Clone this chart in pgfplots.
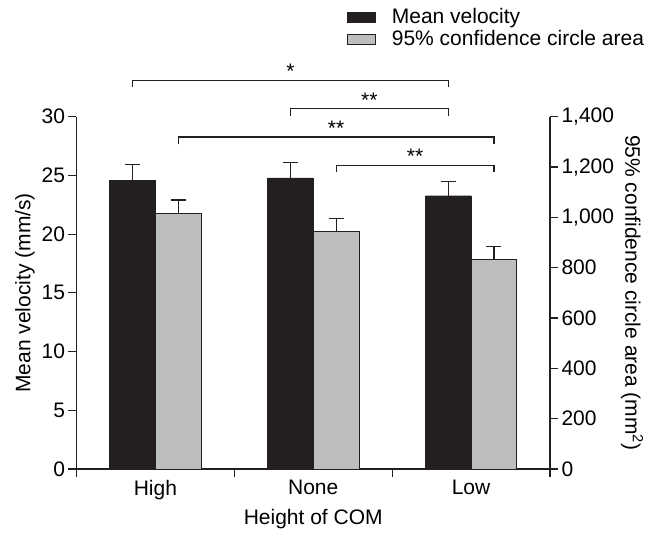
\documentclass[border=0pt]{standalone}
\usepackage{fontspec}
\setmainfont{Liberation Sans}
\usepackage{pgfplots}
\pgfplotsset{compat=1.18}
\definecolor{barblack}{HTML}{231F20}
\definecolor{bargray}{HTML}{BCBEC0}

\newcommand{\fs}{\fontsize{21}{25}\selectfont}
% significance bracket: x1, x2, y, label
\newcommand{\sigbracket}[4]{%
  \draw[line width=1.1pt, barblack] (axis cs:#1,#3-0.6) |- (axis cs:#2,#3) -- (axis cs:#2,#3-0.6);
  \node[anchor=base, font=\fs, inner sep=0pt] at (axis cs:{(#1+#2)/2},#3+0.15) {#4};
}

\pgfplotsset{
  boxlegend/.style={legend image code/.code={\draw[##1] (0pt,-5pt) rectangle (28pt,5pt);}},
  errs/.style={error bars/.cd, y dir=plus, y explicit,
    error bar style={line width=1.1pt, barblack},
    error mark options={rotate=90, mark size=7.5pt, line width=1.1pt, barblack}},
  common/.style={
    width=473.5pt, height=352.3pt, scale only axis,
    xmin=-0.5, xmax=2.5, ymin=0,
    tick align=outside, major tick length=8pt, minor tick length=8pt,
    axis line style={-, line width=1.1pt, draw=barblack},
    every tick/.style={line width=1.1pt, barblack},
    tick label style={font=\fs},
    label style={font=\fs},
    /pgf/number format/assume math mode=true,
    clip=false,
  },
}

\begin{document}
\begin{tikzpicture}
\path[use as bounding box] (-76.5pt,-67pt) rectangle (572.5pt,469pt);

\begin{axis}[common,
  axis x line*=bottom, axis y line*=left,
  ymax=30, ytick={0,5,...,30},
  xtick={0,1,2}, xticklabels={High,None,Low},
  minor xtick={-0.5,0.5,1.5,2.5},
  major x tick style={draw=none},
  xlabel={Height of COM},
  xlabel style={yshift=-2pt},
  ylabel={Mean velocity (mm/s)},
]
% mean velocity (mm/s), bars at the left of each group
\addplot[ybar, bar width=0.29, bar shift=0, fill=barblack, draw=barblack, errs]
  coordinates {(-0.145,24.6) +- (0,1.31) (0.855,24.8) +- (0,1.28) (1.855,23.27) +- (0,1.25)};

\sigbracket{-0.145}{1.855}{33.1}{*}
\sigbracket{0.855}{1.855}{30.66}{**}
\sigbracket{0.145}{2.145}{28.27}{**}
\sigbracket{1.145}{2.145}{25.87}{**}
\end{axis}

\begin{axis}[common,
  axis x line=none, axis y line*=right,
  ymax=1400, ytick={0,200,...,1400},
  ylabel={95\% confidence circle area (mm\textsuperscript{2})},
  ylabel style={rotate=180},
  legend cell align=left,
  legend style={draw=none, fill=none, at={(0.571,1.3086)}, anchor=north west,
    inner sep=0pt, row sep=3pt, column sep=16pt, font=\fs,
    nodes={inner sep=0pt, text height=15pt, text depth=4pt}},
]
\addlegendimage{fill=barblack, draw=barblack, line width=0.8pt, boxlegend}
\addlegendentry{Mean velocity}
% 95% confidence circle area (mm^2), bars at the right of each group
\addplot[ybar, bar width=0.29, bar shift=0, fill=bargray, draw=barblack, line width=0.8pt,
  boxlegend, errs]
  coordinates {(0.145,1014) +- (0,55) (1.145,943) +- (0,51) (2.145,832) +- (0,51)};
\addlegendentry{95\% confidence circle area}
\end{axis}
\end{tikzpicture}
\end{document}
